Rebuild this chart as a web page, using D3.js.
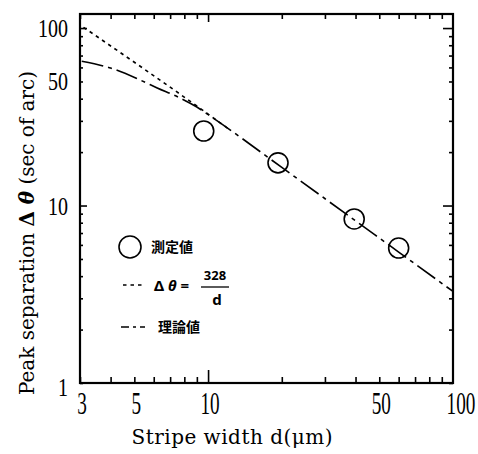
<!DOCTYPE html>
<html><head><meta charset="utf-8">
<script src="https://cdn.jsdelivr.net/npm/d3@7"></script>
<style>body{margin:0;background:#fff}svg{display:block}
.serif{font-family:"Liberation Serif","Times New Roman",serif}
.title{font-family:"DejaVu Serif","Noto Serif",serif}
</style>
</head><body>
<svg id="c" width="478" height="454"></svg>
<script>
// ---- data ----
const xTickLabels = [3, 5, 10, 50, 100];
const yTickLabels = [1, 10, 50, 100];
const measuredD = [9.6, 19.3, 39.5, 60];
const measuredV = [26.3, 17.4, 8.4, 5.76];
const fitD = [3.1, 10.5, 12];
const fitV = [101, 31.2, 27.3];
const theoryD = [3.05, 4, 5.27, 6.2, 7.7, 9, 10.5, 20, 40, 60, 100];
const theoryV = [65, 59.5, 51, 46, 40.3, 35.9, 31.1, 16.4, 8.2, 5.47, 3.28];
const legendLabels = ["測定値", "理論値"];
const xTitle = "Stripe width d(μm)";

// ---- layout ----
const L = 80, R = 453, T = 14, B = 383;
const svg = d3.select("#c");
const x = d3.scaleLog().domain([3, 100]).range([L, R]);
const y = d3.scaleLog().domain([1, 120]).range([B, T]);

const majorX = [10, 100], majorY = [10, 100];
const xAll = x.ticks();
const yAll = y.ticks().filter(v => v <= 100);

function tickAxis(axisFn, scale, vals, size, tr) {
  const g = svg.append("g").attr("transform", tr)
    .call(axisFn(scale).tickValues(vals).tickSize(size).tickFormat(""));
  g.select(".domain").remove();
  g.selectAll("line").attr("stroke", "#000").attr("stroke-width", 1.6);
}
tickAxis(d3.axisBottom, x, xAll.filter(v => !majorX.includes(v)), -6, `translate(0,${B})`);
tickAxis(d3.axisBottom, x, [10], -13, `translate(0,${B})`);
tickAxis(d3.axisTop, x, xAll.filter(v => !majorX.includes(v)), -5, `translate(0,${T})`);
tickAxis(d3.axisTop, x, [10], -8, `translate(0,${T})`);
tickAxis(d3.axisLeft, y, yAll.filter(v => !majorY.includes(v)), -3, `translate(${L},0)`);
tickAxis(d3.axisLeft, y, majorY, -7, `translate(${L},0)`);
tickAxis(d3.axisRight, y, yAll.filter(v => !majorY.includes(v)), -4, `translate(${R},0)`);
tickAxis(d3.axisRight, y, majorY, -10, `translate(${R},0)`);

svg.append("rect").attr("x", L).attr("y", T).attr("width", R - L).attr("height", B - T)
  .attr("fill", "none").attr("stroke", "#000").attr("stroke-width", 2.2);

// tick labels
svg.selectAll(".xl").data(xTickLabels).enter().append("text").attr("class", "serif")
  .attr("transform", d => `translate(${x(d) + (d === 100 ? 8 : 2)},${B + 31}) scale(0.6,1)`)
  .attr("text-anchor", "middle").attr("font-size", 32)
  .text(d => d);
svg.selectAll(".yl").data(yTickLabels).enter().append("text").attr("class", "serif")
  .attr("transform", d => `translate(${L - 12},${y(d) + (d === 1 ? 13 : 9)}) scale(0.8,1)`)
  .attr("text-anchor", "end").attr("font-size", 25)
  .text(d => d);

// axis titles
svg.append("text").attr("class", "title").attr("x", 232).attr("y", 444)
  .attr("text-anchor", "middle").attr("font-size", 20)
  .attr("textLength", 201).attr("lengthAdjust", "spacing")
  .text(xTitle);
const yt = svg.append("text").attr("class", "title")
  .attr("transform", "translate(34,233) rotate(-90)")
  .attr("text-anchor", "middle").attr("font-size", 20)
  .attr("textLength", 324).attr("lengthAdjust", "spacing");
yt.append("tspan").text("Peak separation  ");
yt.append("tspan").attr("font-weight", "bold").text("Δ ");
yt.append("tspan").attr("font-weight", "bold").attr("font-style", "italic").text("θ");
yt.append("tspan").text(" (sec of arc)");

// lines
const line = d3.line().x(d => x(d[0])).y(d => y(d[1])).curve(d3.curveMonotoneX);
svg.append("path").datum(theoryD.map((d, i) => [d, theoryV[i]]))
  .attr("d", line).attr("fill", "none").attr("stroke", "#000")
  .attr("stroke-width", 1.6).attr("stroke-dasharray", "22,5,4,5");
svg.append("path").datum(fitD.map((d, i) => [d, fitV[i]]))
  .attr("d", line).attr("fill", "none").attr("stroke", "#000")
  .attr("stroke-width", 1.6).attr("stroke-dasharray", "3.5,4");

// measured points
svg.selectAll(".pt").data(measuredD.map((d, i) => [d, measuredV[i]])).enter()
  .append("circle").attr("cx", d => x(d[0])).attr("cy", d => y(d[1])).attr("r", 10)
  .attr("fill", "none").attr("stroke", "#000").attr("stroke-width", 1.6);

// legend
const lg = svg.append("g");
const cjk = "'Noto Sans CJK JP', sans-serif";
lg.append("circle").attr("cx", 130).attr("cy", 247).attr("r", 11)
  .attr("fill", "none").attr("stroke", "#000").attr("stroke-width", 1.6);
lg.append("text").attr("x", 151).attr("y", 252).attr("font-family", cjk)
  .attr("font-weight", "bold").attr("font-size", 14).text(legendLabels[0]);
lg.append("line").attr("x1", 123).attr("x2", 144).attr("y1", 285).attr("y2", 285)
  .attr("stroke", "#000").attr("stroke-width", 1.6).attr("stroke-dasharray", "3.5,4");
const eq = lg.append("text").attr("x", 154).attr("y", 291).attr("font-family", "Noto Sans")
  .attr("font-weight", "bold").attr("font-size", 15);
eq.append("tspan").text("Δ ");
eq.append("tspan").attr("font-style", "italic").text("θ");
eq.append("tspan").text(" =");
lg.append("text").attr("x", 215).attr("y", 280).attr("text-anchor", "middle")
  .attr("font-family", "Noto Sans").attr("font-weight", "bold").attr("font-size", 13).text("328");
lg.append("line").attr("x1", 201).attr("x2", 229).attr("y1", 287).attr("y2", 287)
  .attr("stroke", "#000").attr("stroke-width", 1.3);
lg.append("text").attr("x", 217).attr("y", 305).attr("text-anchor", "middle")
  .attr("font-family", "Noto Sans").attr("font-weight", "bold").attr("font-size", 15).text("d");
lg.append("line").attr("x1", 121).attr("x2", 145).attr("y1", 327).attr("y2", 327)
  .attr("stroke", "#000").attr("stroke-width", 1.6).attr("stroke-dasharray", "8,4,3,4,8");
lg.append("text").attr("x", 158).attr("y", 332).attr("font-family", cjk)
  .attr("font-weight", "bold").attr("font-size", 14).text(legendLabels[1]);
</script>
</body></html>
